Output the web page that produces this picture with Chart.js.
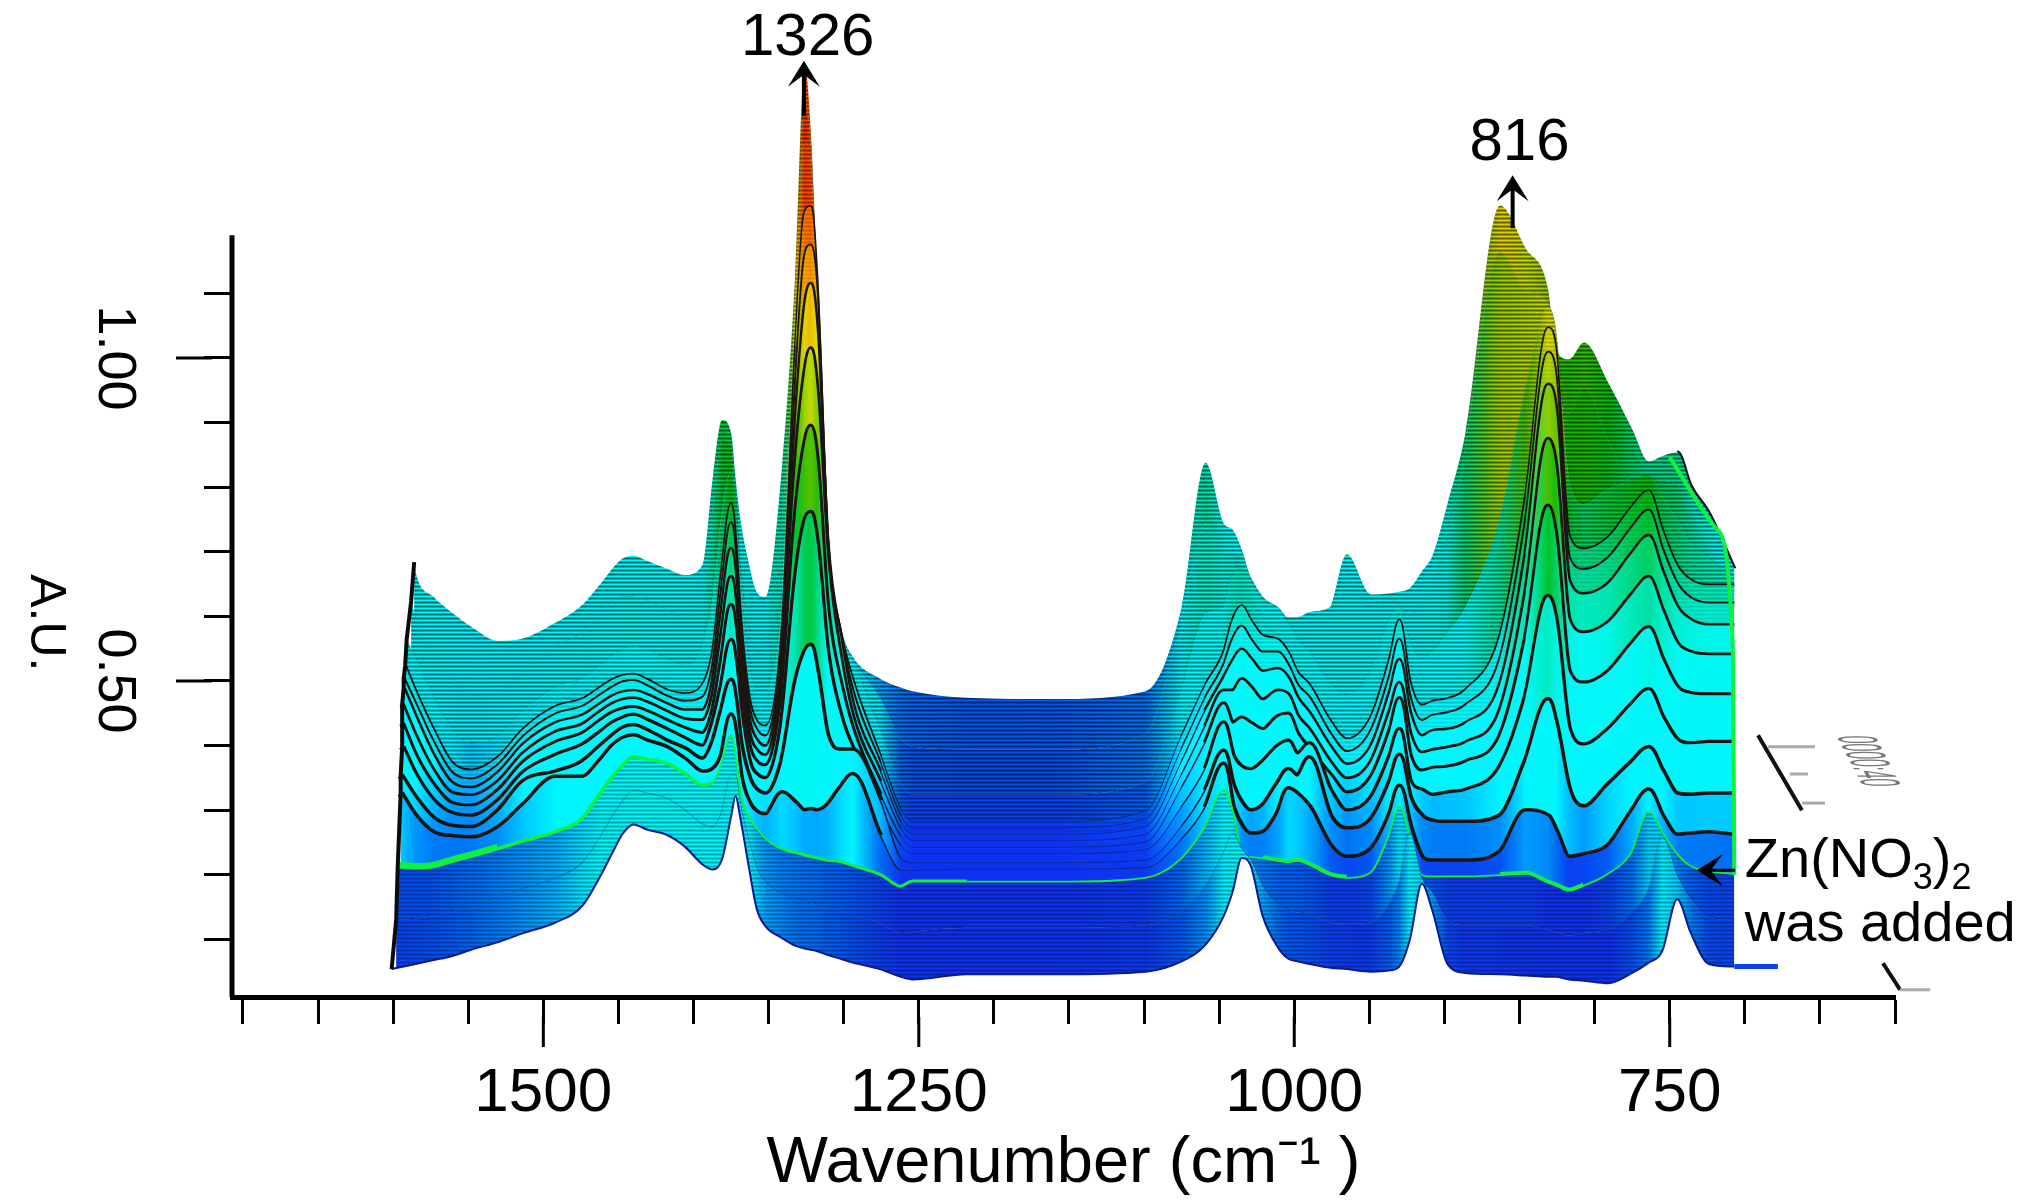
<!DOCTYPE html>
<html>
<head>
<meta charset="utf-8">
<title>Waterfall FTIR</title>
<style>
  html, body { margin: 0; padding: 0; background: #fff; }
  canvas { display: block; }
</style>
<script src="https://cdn.jsdelivr.net/npm/chart.js@4"></script>
</head>
<body>
<canvas id="waterfall" width="2027" height="1203"></canvas>
<script>
/* wavenumber columns shared by all spectra (cm-1), the left end of each spectrum comes from edgeWaves */
var waves = [
  1585,1573,1561,1548,1530,
  1513,1492,1474,1462,1454,
  1447,1440,1431,1418,1406,
  1394,1387,1381,1375,1372,
  1369,1363,1358,1352,1341,
  1332,1326,1322,1318,1311,
  1302,1294,1276,1262,1254,
  1218,1159,1099,1075,1059,
  1047,1041,1035,1029,1021,
  1011,1004,998,990,976,
  965,949,936,930,923,
  915,908,898,886,863,
  846,831,826,817,807,
  791,775,764,755,745,
  736,724,707
];
/* left end of each spectrum, front to back */
var edgeWaves = [1601,1598,1597,1595,1595,1594,1594,1594,1593,1593,1592,1591,1588,1586];

/* spectra in milli A.U., first value is the left end, front to back */
var scanFront = [54,
  62,68,74,84,96, 110,126,152,198,234, 264,278,270,262,244,
  216,208,224,290,322, 290,210,148,120,102, 90,86,84,82,76,
  70,64,54,42,38, 46,46,50,66,92, 136,174,226,214,136,
  88,70,66,62,56, 54,50,52,58,100, 186,144,62,48,46,
  44,42,42,38,36, 32,48,64,82,162, 110,62,58];
var scanMid = [130,
  132,136,142,150,164, 178,194,218,258,290, 314,330,326,318,300,
  278,274,298,354,354, 310,250,210,188,170, 162,158,156,154,148,
  144,138,126,110,112, 118,118,122,144,182, 234,264,240,222,182,
  154,144,142,138,126, 124,126,158,190,264, 194,172,130,122,122,
  122,114,112,106,110, 116,142,178,258,198, 162,134,130];
var scanZincAdded = [210,
  208,210,218,226,238, 250,264,284,322,348, 366,380,376,370,354,
  336,342,370,414,374, 324,286,270,254,238, 232,228,226,224,220,
  218,212,198,180,188, 188,188,194,224,274, 330,294,230,226,224,
  220,218,220,214,198, 194,202,264,304,254, 198,196,196,196,198,
  200,186,182,174,182, 200,234,296,264,230, 212,204,200];
var scan1 = [326,
  290,264,258,256,272, 308,350,350,376,398, 410,414,406,396,378,
  358,362,384,446,414, 354,310,296,292,326, 310,298,300,298,306,
  334,354,260,206,206, 208,208,210,254,304, 370,304,274,262,264,
  294,332,324,304,244, 226,238,294,336,274, 226,220,220,220,234,
  298,290,268,226,230, 244,298,330,290,260, 262,264,260];
var scan2 = [354,
  318,286,274,272,298, 344,358,374,398,414, 426,430,422,406,394,
  378,404,454,500,464, 404,348,330,324,374, 494,542,554,514,414,
  392,392,314,224,218, 218,218,222,274,330, 390,338,310,298,306,
  340,362,352,380,290, 270,284,344,384,318, 290,282,280,280,290,
  374,470,434,330,304, 338,374,396,360,324, 322,324,324];
var scan3 = [398,
  354,314,294,290,314, 358,384,400,420,434, 442,446,438,424,410,
  398,434,494,562,524, 458,374,354,348,434, 654,744,760,714,544,
  444,394,304,244,232, 232,232,238,304,364, 434,384,366,362,374,
  398,406,386,402,330, 298,318,384,424,344, 330,322,326,330,366,
  474,630,594,424,400, 424,464,486,444,408, 402,404,404];
var scan4 = [434,
  384,338,310,306,330, 374,404,418,438,450, 456,458,452,438,426,
  418,454,534,616,574, 494,398,374,368,474, 754,864,894,844,614,
  494,424,324,258,242, 242,242,250,334,404, 464,434,442,434,424,
  444,448,418,394,354, 326,350,424,472,384, 360,364,366,374,414,
  564,770,724,514,496, 514,558,582,534,490, 480,478,478];
var scan5 = [464,
  414,360,326,322,344, 388,420,432,452,464, 470,472,466,452,440,
  438,478,574,660,614, 530,418,392,384,504, 834,974,1014,954,694,
  534,444,344,270,252, 252,252,262,354,430, 484,484,502,490,470,
  484,478,446,424,374, 348,374,454,496,418, 388,392,396,404,454,
  634,874,834,594,574, 590,634,660,610,558, 544,540,540];
var scan6 = [488,
  444,384,342,334,358, 402,434,446,464,476, 482,484,478,464,454,
  454,500,610,704,654, 558,438,408,398,530, 894,1074,1114,1044,714,
  564,464,360,280,262, 262,262,274,374,454, 504,530,548,534,514,
  518,504,474,450,398, 370,398,484,532,450, 414,422,424,434,494,
  694,958,924,654,634, 650,698,724,670,614, 594,586,586];
var scan7 = [504,
  464,404,358,348,370, 414,448,460,478,490, 498,500,492,476,468,
  474,524,644,744,690, 584,458,424,414,554, 954,1154,1174,1104,718,
  570,484,374,290,272, 272,272,286,394,474, 524,564,584,564,544,
  544,524,494,474,418, 390,422,510,564,474, 438,446,450,462,534,
  744,1008,974,690,672, 690,738,764,704,650, 628,620,620];
var scan8 = [524,
  484,424,374,362,382, 426,460,472,490,502, 508,510,502,486,480,
  494,548,674,774,714, 604,474,438,430,574, 1014,1224,1234,1124,722,
  574,502,386,300,282, 282,282,298,414,494, 544,594,616,594,570,
  564,544,514,494,438, 410,444,538,594,498, 462,468,472,486,570,
  784,1046,1014,724,704, 722,770,794,734,678, 656,648,648];
var scanLate1 = [564,
  534,474,424,404,414, 454,490,504,524,538, 548,554,548,534,524,
  554,634,764,824,784, 664,524,484,484,634, 1124,1334,1304,1134,724,
  578,530,424,340,324, 324,324,344,484,604, 614,664,674,654,624,
  614,590,564,544,494, 478,514,598,614,560, 534,544,574,614,754,
  954,1078,1044,814,774, 798,810,818,784,750, 714,690,664];
var scanLate2 = [624,
  594,544,504,484,484, 514,554,574,604,624, 630,630,624,610,598,
  644,774,874,864,784, 674,574,544,558,754, 1054,1394,1334,1104,718,
  580,534,474,410,398, 394,394,418,594,744, 694,694,690,660,630,
  614,598,598,606,614, 660,614,630,614,604, 614,644,714,864,1164,
  1104,1084,974,914,954, 874,810,818,810,804, 754,704,614];
var scanLast = [684,
  668,630,606,584,562, 566,590,618,650,674, 690,694,686,674,664,
  680,818,904,884,814, 754,680,638,630,834, 1140,1454,1354,1140,726,
  584,538,504,490,484, 474,472,484,614,838, 744,734,704,660,626,
  572,576,584,590,614, 696,634,636,638,644, 670,694,774,884,1236,
  1170,1106,1014,998,1024, 962,890,840,848,854, 802,760,674];

/* green rim along the back right corner, and the short tail at the front */
var rimWaves = [750,719,708,707];
var rimValues = [846,736,554,200];
var tailWaves = [707,678];
var tailValues = [58,58];

/* axis labels */
var xMajorLabels = [1500,1250,1000,750];
var yMajorLabels = [1.0,0.5];

/* annotations, in axis units */
var peakLabels = [
  { text: '1326', wave: 1324, au: 1.494 },
  { text: '816', wave: 850, au: 1.332 }
];
var peakArrows = [
  { wave: 1326.5, from: 1.375, to: 1.46 },
  { wave: 854.6, from: 1.201, to: 1.283 }
];

var spectra = [scanFront, scanMid, scanZincAdded, scan1, scan2, scan3, scan4, scan5, scan6, scan7, scan8, scanLate1, scanLate2, scanLast];

/* stroke and density of the stripes per spectrum */
var lineColors = ['#0a1a90','rgba(10,30,120,0.45)','#10f040','#1c1410','#1c1410','#1c1410','#1c1410','#1c1410','#1c1410','#1c1410','#1c1410','rgba(0,40,40,0.35)','rgba(0,40,40,0.35)','rgba(0,0,0,0)'];
var lineWidths = [2,1.5,4.5,7,7,6.5,6,5.5,5,4,3.5,1,1,1];
var bandShade = [0.32,0.32,0,0,0,0,0,0,0.1,0.2,0.45,0.55,0.55,0];
var bandLift = [0,0,0,0,0,0,0,0,0,0.005,0.01,0.02,0.025,0];

var colormap = [
  [0,    15,  50, 240],
  [0.03,  0,  95, 240],
  [0.07,  0, 160, 255],
  [0.11,  0, 245, 255],
  [0.30,  0, 250, 245],
  [0.42,  0, 215, 130],
  [0.52,  0, 185,   0],
  [0.64, 110, 195,   0],
  [0.76, 225, 225,   0],
  [0.90, 255, 140,   0],
  [1.03, 255,  40,   0]
];

function colorForHeight(z) {
  var i = 0;
  if (z <= 0) z = 0;
  while (i < colormap.length - 2 && z > colormap[i + 1][0]) i++;
  var a = colormap[i], b = colormap[i + 1];
  var t = Math.min(1, (z - a[0]) / (b[0] - a[0]));
  return 'rgb(' + Math.round(a[1] + (b[1] - a[1]) * t) + ',' + Math.round(a[2] + (b[2] - a[2]) * t) + ',' + Math.round(a[3] + (b[3] - a[3]) * t) + ')';
}

function pointsFor(idx) {
  return spectra[idx].map(function(v, i) {
    return { x: i === 0 ? edgeWaves[idx] : waves[i - 1], y: v / 1000 };
  });
}

/* fill of a band: horizontal colour by height above the flat part, with thin dark rows on top */
var bandCache = {};
var flatIdx = waves.indexOf(1159) + 1;
function bandFill(chart, idx) {
  if (bandCache[idx]) return bandCache[idx];
  var lower = spectra[idx], upper = spectra[idx + 1];
  var scale = chart.scales.x;
  var w = chart.width;
  var off = document.createElement('canvas');
  off.width = w;
  off.height = 4;
  var c = off.getContext('2d');
  var grad = c.createLinearGradient(0, 0, w, 0);
  upper.forEach(function(v, i) {
    var wave = i === 0 ? edgeWaves[idx + 1] : waves[i - 1];
    var pos = scale.getPixelForValue(wave) / w;
    var z = (0.7 * (v - upper[flatIdx]) + 0.3 * (lower[i] - lower[flatIdx])) / 1000;
    grad.addColorStop(Math.max(0, Math.min(1, pos)), colorForHeight(z + bandLift[idx]));
  });
  c.fillStyle = grad;
  c.fillRect(0, 0, w, 4);
  var shade = bandShade[idx];
  [0, 0.5, 1, 0.5].forEach(function(k, row) {
    c.fillStyle = 'rgba(0,0,0,' + (shade * k) + ')';
    c.fillRect(0, row, w, 1);
  });
  bandCache[idx] = chart.ctx.createPattern(off, 'repeat');
  return bandCache[idx];
}

/* scans fade to thin blue lines over the flat part of the spectrum */
function flatLevel(ctx) {
  var i = ctx.p0DataIndex;
  if (i >= 34 && i <= 38) return 2;
  if (i === 33 || i === 39) return 1;
  return 0;
}
function segmentFor(idx) {
  if (idx === spectra.length - 1) {
    return {
      borderColor: function(ctx) { return ctx.p0DataIndex >= 70 ? '#101010' : 'rgba(0,0,0,0)'; },
      borderWidth: function(ctx) { return ctx.p0DataIndex >= 70 ? 4 : 1; }
    };
  }
  if (idx === 2) {
    /* the green line is thick only in a few stretches */
    return {
      borderWidth: function(ctx) {
        var i = ctx.p0DataIndex;
        if (i <= 4) return 13;
        if (i <= 16) return 7;
        if ((i >= 45 && i <= 50) || (i >= 60 && i <= 64)) return 8;
        if (i >= 25 && i <= 35) return 6;
        return 3.5;
      }
    };
  }
  if (idx >= 3 && idx <= 10) {
    return {
      borderColor: function(ctx) {
        var level = flatLevel(ctx);
        return level === 2 ? '#0a2aa0' : level === 1 ? '#0a2450' : undefined;
      },
      borderWidth: function(ctx) {
        var level = flatLevel(ctx);
        return level === 2 ? 2 : level === 1 ? 3 : undefined;
      }
    };
  }
  return undefined;
}

/* one filled band per spectrum (no stroke, a styled stroke would split the fill into pieces) */
var datasets = spectra.map(function(s, idx) {
  return {
    label: 'band ' + idx,
    data: pointsFor(idx),
    showLine: true,
    pointRadius: 0,
    borderWidth: 0,
    order: idx,
    cubicInterpolationMode: 'monotone',
    fill: idx < spectra.length - 1 ? '+1' : false,
    backgroundColor: function(ctx) {
      if (!ctx.chart.chartArea || idx === spectra.length - 1) return 'rgba(0,0,0,0)';
      return bandFill(ctx.chart, idx);
    }
  };
});
/* and the stroke of that spectrum, sitting right on top of its own band */
spectra.forEach(function(s, idx) {
  datasets.push({
    label: 'scan ' + idx,
    data: pointsFor(idx),
    showLine: true,
    pointRadius: 0,
    borderColor: lineColors[idx],
    borderWidth: lineWidths[idx],
    order: idx - 0.5,
    cubicInterpolationMode: 'monotone',
    fill: false,
    segment: segmentFor(idx)
  });
});

/* left edge, joins the first value of every spectrum */
datasets.push({
  label: 'left edge',
  data: spectra.map(function(s, i) { return { x: edgeWaves[i], y: s[0] / 1000 }; }),
  showLine: true, pointRadius: 0, borderColor: '#0c0c0c', borderWidth: 4, fill: false, order: -2
});
datasets.push({
  label: 'rim',
  data: rimWaves.map(function(w, i) { return { x: w, y: rimValues[i] / 1000 }; }),
  showLine: true, pointRadius: 0, borderColor: '#10f040', borderWidth: 4, fill: false, order: -2,
  cubicInterpolationMode: 'monotone'
});
datasets.push({
  label: 'tail',
  data: tailWaves.map(function(w, i) { return { x: w, y: tailValues[i] / 1000 }; }),
  showLine: true, pointRadius: 0, borderColor: '#0a40f0', borderWidth: 5, fill: false, order: 20
});

var mainFont = '"Liberation Sans", Arial, sans-serif';
var narrowFont = '"Liberation Sans Narrow", "Liberation Sans", Arial, sans-serif';

function arrowHead(c, x, y, dx, dy) {
  /* open stealth head, (dx,dy) is the pointing direction */
  var px = -dy, py = dx;
  c.beginPath();
  c.moveTo(x - dx * 26 + px * 16, y - dy * 26 + py * 16);
  c.lineTo(x, y);
  c.lineTo(x - dx * 26 - px * 16, y - dy * 26 - py * 16);
  c.lineTo(x - dx * 14, y - dy * 14);
  c.closePath();
  c.fill();
}

var decorPlugin = {
  id: 'decor',
  afterDatasetsDraw: function(chart) {
    var c = chart.ctx;
    var sx = chart.scales.x, sy = chart.scales.y;
    c.save();
    c.strokeStyle = '#000';
    c.fillStyle = '#000';

    /* y axis line stops well under the top of the area */
    c.lineWidth = 5;
    c.beginPath();
    c.moveTo(sx.left, sy.getPixelForValue(1.19));
    c.lineTo(sx.left, sy.bottom);
    c.stroke();

    /* longer major ticks */
    c.lineWidth = 3;
    xMajorLabels.forEach(function(w) {
      var x = sx.getPixelForValue(w);
      c.beginPath(); c.moveTo(x, sy.bottom + 20); c.lineTo(x, sy.bottom + 50); c.stroke();
    });
    yMajorLabels.forEach(function(v) {
      var y = sy.getPixelForValue(v);
      c.beginPath(); c.moveTo(sx.left - 20, y); c.lineTo(sx.left - 56, y); c.stroke();
    });

    /* y title reads downwards */
    c.save();
    c.translate(45, sy.getPixelForValue(0.59));
    c.rotate(Math.PI / 2);
    c.font = '50px ' + narrowFont;
    c.textAlign = 'center';
    c.textBaseline = 'middle';
    c.fillText('A.U.', 0, 0);
    c.restore();

    /* peak labels and arrows */
    c.font = '60px ' + mainFont;
    c.textAlign = 'center';
    c.textBaseline = 'middle';
    peakLabels.forEach(function(p) {
      c.fillText(p.text, sx.getPixelForValue(p.wave), sy.getPixelForValue(p.au));
    });
    c.lineWidth = 4;
    peakArrows.forEach(function(a) {
      var x = sx.getPixelForValue(a.wave);
      var y1 = sy.getPixelForValue(a.from), y2 = sy.getPixelForValue(a.to);
      c.beginPath(); c.moveTo(x, y1); c.lineTo(x, y2 + 10); c.stroke();
      arrowHead(c, x, y2, 0, -1);
    });

    /* Zn(NO3)2 note */
    var zx = sx.getPixelForValue(700), zy = sy.getPixelForValue(0.196);
    c.textAlign = 'left';
    c.textBaseline = 'alphabetic';
    c.font = '56px ' + mainFont;
    c.fillText('Zn(NO', zx, zy);
    var cursor = zx + c.measureText('Zn(NO').width;
    c.font = '36px ' + mainFont;
    c.fillText('3', cursor, zy + 12);
    cursor += c.measureText('3').width;
    c.font = '56px ' + mainFont;
    c.fillText(')', cursor, zy);
    cursor += c.measureText(')').width;
    c.font = '36px ' + mainFont;
    c.fillText('2', cursor, zy + 12);
    c.font = '56px ' + mainFont;
    c.fillText('was added', zx, sy.getPixelForValue(0.098));

    var ax1 = sx.getPixelForValue(706.5), ax2 = sx.getPixelForValue(732), ay = sy.getPixelForValue(0.207);
    c.lineWidth = 3;
    c.beginPath(); c.moveTo(ax1, ay); c.lineTo(ax2 + 10, ay); c.stroke();
    arrowHead(c, ax2, ay, -1, 0);

    /* depth axis at the right */
    c.strokeStyle = '#111';
    c.lineWidth = 4;
    c.beginPath();
    c.moveTo(sx.getPixelForValue(691.2), sy.getPixelForValue(0.416));
    c.lineTo(sx.getPixelForValue(662), sy.getPixelForValue(0.3));
    c.moveTo(sx.getPixelForValue(608), sy.getPixelForValue(0.063));
    c.lineTo(sx.getPixelForValue(596.6), sy.getPixelForValue(0.022));
    c.stroke();
    c.strokeStyle = '#aaa';
    c.lineWidth = 3;
    [[684.6, 653.3, 0.398], [670, 658, 0.356], [662, 646.6, 0.311], [596.6, 576.6, 0.022]].forEach(function(t) {
      c.beginPath();
      c.moveTo(sx.getPixelForValue(t[0]), sy.getPixelForValue(t[2]));
      c.lineTo(sx.getPixelForValue(t[1]), sy.getPixelForValue(t[2]));
      c.stroke();
    });
    /* sheared time label of the depth axis */
    c.save();
    c.transform(0.52, 1, -4, 0, sx.getPixelForValue(620) - 13, sy.getPixelForValue(0.375) - 26);
    c.font = '14px ' + mainFont;
    c.fillStyle = '#777';
    c.textAlign = 'left';
    c.textBaseline = 'middle';
    c.fillText('0000:40', 0, 0);
    c.restore();

    c.restore();
  }
};

new Chart(document.getElementById('waterfall'), {
  type: 'scatter',
  data: { datasets: datasets },
  options: {
    responsive: false,
    devicePixelRatio: 1,
    animation: false,
    layout: { padding: { top: 20, right: 132, left: 0, bottom: 0 } },
    plugins: { legend: { display: false }, tooltip: { enabled: false }, title: { display: false } },
    scales: {
      x: {
        type: 'linear',
        reverse: true,
        min: 600,
        max: 1707.3,
        afterFit: function(scale) {
          scale.height = 206;
          scale.paddingLeft = 0;
          scale.paddingRight = 0;
        },
        grid: { drawOnChartArea: false, tickLength: 27, tickColor: '#000', tickWidth: 3 },
        border: { color: '#000', width: 5 },
        ticks: {
          stepSize: 50,
          includeBounds: false,
          autoSkip: false,
          maxRotation: 0,
          padding: 33,
          color: '#000',
          font: { family: mainFont, size: 62 },
          callback: function(v) { return xMajorLabels.indexOf(v) >= 0 ? String(v) : ''; }
        },
        title: {
          display: true,
          text: 'Wavenumber (cm\u207B\u00B9 )',
          color: '#000',
          font: { family: mainFont, size: 65 },
          padding: { top: 0, bottom: 0 }
        }
      },
      y: {
        type: 'linear',
        min: 0.0108,
        max: 1.5232,
        afterFit: function(scale) {
          scale.width = 232;
          scale.paddingTop = 0;
          scale.paddingBottom = 0;
        },
        afterBuildTicks: function(scale) {
          scale.ticks = scale.ticks.filter(function(t) { return t.value <= 1.15; });
        },
        grid: { drawOnChartArea: false, tickLength: 28, tickColor: '#000', tickWidth: 3 },
        border: { display: false },
        ticks: {
          stepSize: 0.1,
          includeBounds: false,
          autoSkip: false,
          minRotation: -90,
          maxRotation: -90,
          crossAlign: 'center',
          padding: 38,
          color: '#000',
          font: { family: narrowFont, size: 54 },
          callback: function(v) {
            if (Math.abs(v - 1) < 0.01) return '1.00';
            if (Math.abs(v - 0.5) < 0.01) return '0.50';
            return '';
          }
        }
      }
    }
  },
  plugins: [decorPlugin]
});
</script>
</body>
</html>
